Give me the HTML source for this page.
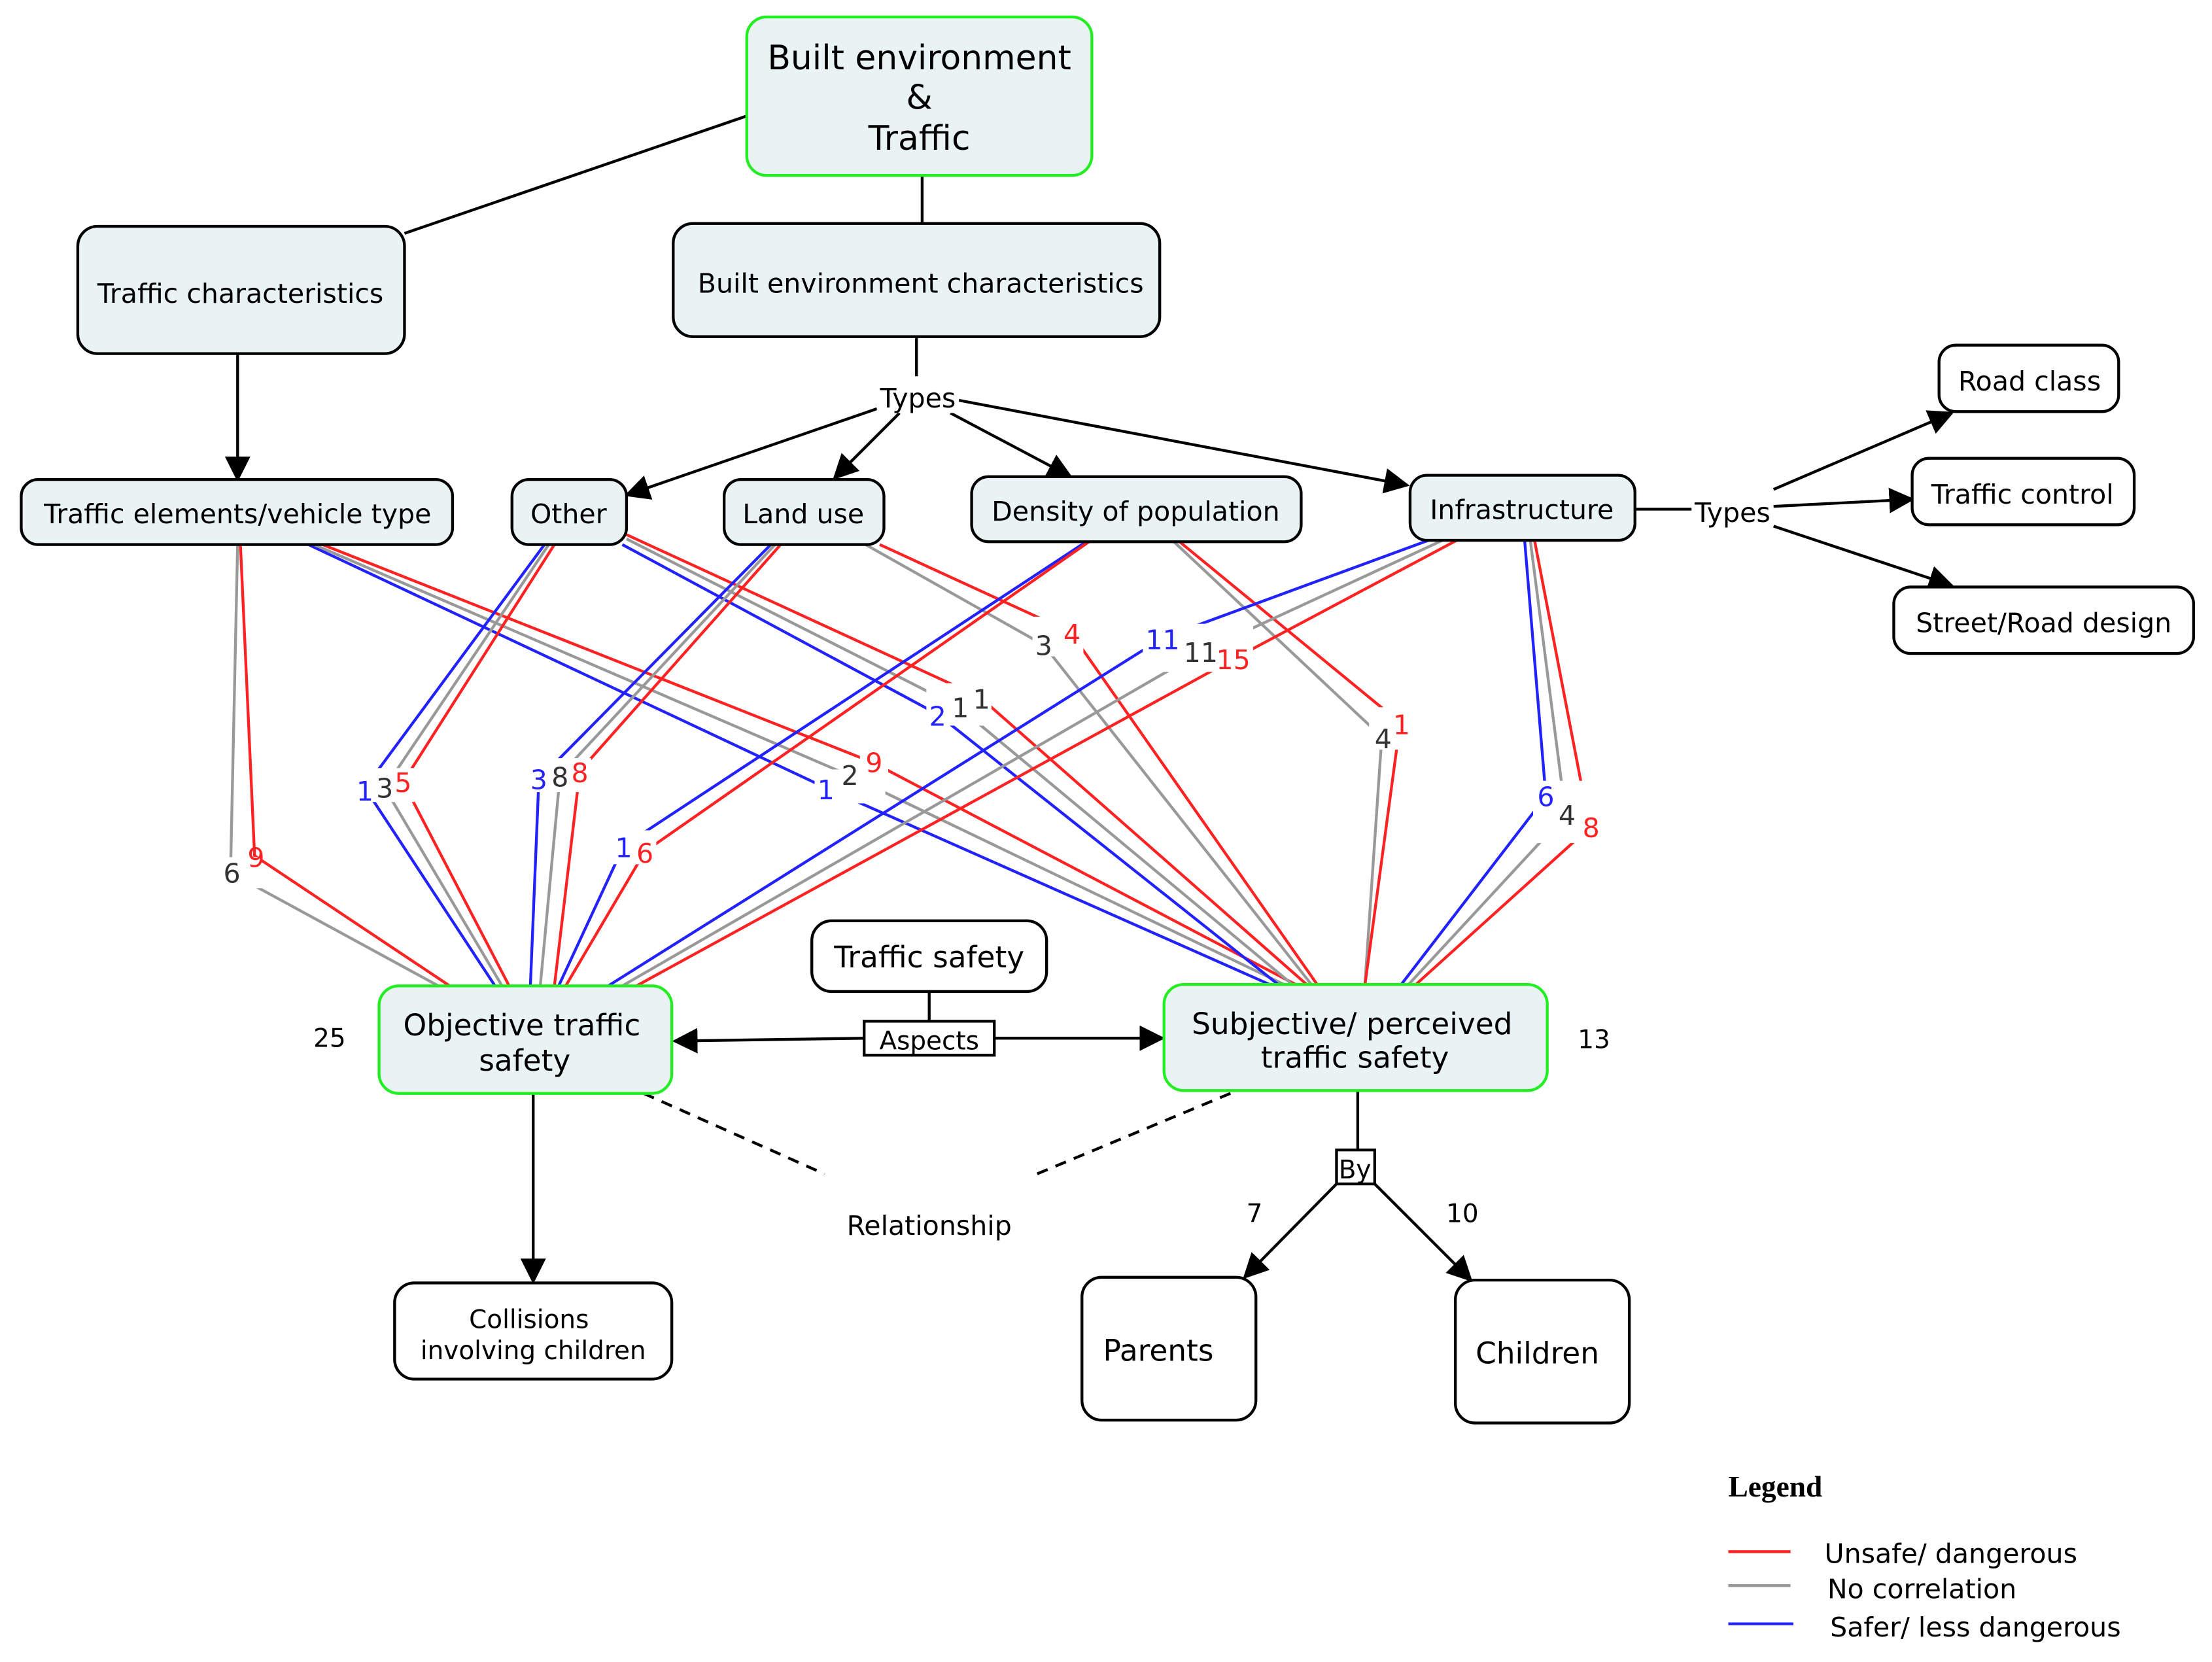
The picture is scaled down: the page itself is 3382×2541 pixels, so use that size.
<!DOCTYPE html>
<html><head><meta charset="utf-8"><style>
html,body{margin:0;padding:0;background:#fff;}
svg{display:block;}
text{font-family:"DejaVu Sans","Liberation Sans",sans-serif;}
</style></head><body>
<svg width="3382" height="2541" viewBox="0 0 1564 1175" preserveAspectRatio="none" xmlns="http://www.w3.org/2000/svg">
<defs>
<marker id="ar" viewBox="0 0 10 10" refX="9" refY="5" markerWidth="9" markerHeight="9" markerUnits="userSpaceOnUse" orient="auto"><path d="M0,0L10,5L0,10z" fill="#000"/></marker>
<marker id="arb" viewBox="0 0 10 10" refX="9" refY="5" markerWidth="18" markerHeight="18" markerUnits="userSpaceOnUse" orient="auto"><path d="M0,0L10,5L0,10z" fill="#000"/></marker>
</defs>
<rect width="1564" height="1175" fill="#fff"/>
<!-- colored lines -->
<g fill="none" stroke-width="2">
<polyline stroke="#999" points="168,385 163,617 310,697"/>
<polyline stroke="#f22" points="170,385 180,605 318,697"/>
<polyline stroke="#22f" points="218,385 584,557 900,697"/>
<polyline stroke="#999" points="222,385 600,548 910,697"/>
<polyline stroke="#f22" points="228,385 617,539 918,697"/>
<polyline stroke="#22f" points="385,385 258,557 350,697"/>
<polyline stroke="#999" points="388,385 272,557 355,697"/>
<polyline stroke="#f22" points="392,385 285,553 360,697"/>
<polyline stroke="#22f" points="440,385 663,505 905,697"/>
<polyline stroke="#999" points="443,381 678,500 915,697"/>
<polyline stroke="#f22" points="443,378 693,493 925,697"/>
<polyline stroke="#22f" points="545,385 381,551 375,697"/>
<polyline stroke="#999" points="548,385 396,548 382,697"/>
<polyline stroke="#f22" points="552,385 410,545 392,697"/>
<polyline stroke="#999" points="612,385 738,456 928,697"/>
<polyline stroke="#f22" points="622,385 757,447 932,697"/>
<polyline stroke="#22f" points="768,383 441,598 395,697"/>
<polyline stroke="#f22" points="770,383 456,602 400,697"/>
<polyline stroke="#999" points="830,383 977,521 965,697"/>
<polyline stroke="#f22" points="834,383 990,511 965,697"/>
<polyline stroke="#22f" points="1010,382 822,451 430,697"/>
<polyline stroke="#999" points="1020,382 849,461 440,697"/>
<polyline stroke="#f22" points="1030,382 872,466 450,697"/>
<polyline stroke="#22f" points="1078,382 1093,563 990,697"/>
<polyline stroke="#999" points="1082,382 1107,576 995,697"/>
<polyline stroke="#f22" points="1085,382 1124,585 1000,697"/>
</g>
<!-- number labels -->
<g font-size="19" text-anchor="middle">
<g fill="#fff"><rect x="155" y="606" width="30" height="22"/><rect x="249" y="543" width="44" height="24"/><rect x="372" y="536" width="46" height="24"/><rect x="576" y="544" width="50" height="24"/><rect x="608" y="527" width="20" height="24"/><rect x="655" y="483" width="46" height="30"/><rect x="730" y="436" width="36" height="28"/><rect x="432" y="587" width="32" height="24"/><rect x="808" y="441" width="78" height="34"/><rect x="968" y="500" width="30" height="30"/><rect x="1084" y="552" width="48" height="44"/></g>
<text x="164" y="624" fill="#333">6</text><text x="181" y="613" fill="#f22">9</text>
<text x="258" y="566" fill="#22f">1</text><text x="272" y="564" fill="#333">3</text><text x="285" y="560" fill="#f22">5</text>
<text x="381" y="558" fill="#22f">3</text><text x="396" y="556" fill="#333">8</text><text x="410" y="553" fill="#f22">8</text>
<text x="584" y="565" fill="#22f">1</text><text x="601" y="555" fill="#333">2</text><text x="618" y="546" fill="#f22">9</text>
<text x="663" y="513" fill="#22f">2</text><text x="679" y="507" fill="#333">1</text><text x="694" y="501" fill="#333">1</text>
<text x="738" y="463" fill="#333">3</text><text x="758" y="455" fill="#f22">4</text>
<text x="441" y="606" fill="#22f">1</text><text x="456" y="610" fill="#f22">6</text>
<text x="822" y="459" fill="#22f">11</text><text x="849" y="468" fill="#333">11</text><text x="872" y="473" fill="#f22">15</text>
<text x="978" y="529" fill="#333">4</text><text x="991" y="519" fill="#f22">1</text>
<text x="1093" y="570" fill="#22f">6</text><text x="1108" y="583" fill="#333">4</text><text x="1125" y="592" fill="#f22">8</text>
</g>
<!-- black connectors -->
<g stroke="#000" stroke-width="2" fill="none">
<line x1="528" y1="82" x2="286" y2="165"/>
<line x1="652" y1="124" x2="652" y2="158"/>
<line x1="648" y1="238" x2="648" y2="266"/>
<line x1="168" y1="250" x2="168" y2="339" marker-end="url(#arb)"/>
<line x1="620" y1="289" x2="443" y2="350" marker-end="url(#arb)"/>
<line x1="636" y1="292" x2="590" y2="338" marker-end="url(#arb)"/>
<line x1="672" y1="292" x2="757" y2="337" marker-end="url(#arb)"/>
<line x1="678" y1="283" x2="995" y2="343" marker-end="url(#arb)"/>
<line x1="1156" y1="360" x2="1196" y2="360"/>
<line x1="1254" y1="346" x2="1380" y2="292" marker-end="url(#arb)"/>
<line x1="1254" y1="358" x2="1352" y2="353" marker-end="url(#arb)"/>
<line x1="1254" y1="372" x2="1380" y2="414" marker-end="url(#arb)"/>
<line x1="657" y1="701" x2="657" y2="722"/>
<line x1="611" y1="734" x2="477" y2="736" marker-end="url(#arb)"/>
<line x1="703" y1="734" x2="822" y2="734" marker-end="url(#arb)"/>
<line x1="377" y1="773" x2="377" y2="906" marker-end="url(#arb)"/>
<line x1="960" y1="771" x2="960" y2="813"/>
<line x1="945" y1="837" x2="880" y2="903" marker-end="url(#arb)"/>
<line x1="972" y1="837" x2="1040" y2="905" marker-end="url(#arb)"/>
<line x1="455" y1="773" x2="583" y2="830" stroke-dasharray="8,6"/>
<line x1="870" y1="773" x2="733" y2="830" stroke-dasharray="8,6"/>
</g>
<!-- nodes -->
<g stroke-width="2">
<rect x="528" y="12" width="244" height="112" rx="14" fill="#e9f3f4" stroke="#2e2"/>
<rect x="55" y="160" width="231" height="90" rx="14" fill="#e9f3f4" stroke="#000"/>
<rect x="476" y="158" width="344" height="80" rx="14" fill="#e9f3f4" stroke="#000"/>
<rect x="15" y="339" width="305" height="46" rx="12" fill="#e9f3f4" stroke="#000"/>
<rect x="362" y="339" width="81" height="46" rx="12" fill="#e9f3f4" stroke="#000"/>
<rect x="512" y="339" width="113" height="46" rx="12" fill="#e9f3f4" stroke="#000"/>
<rect x="687" y="337" width="233" height="46" rx="12" fill="#e9f3f4" stroke="#000"/>
<rect x="997" y="336" width="159" height="46" rx="12" fill="#e9f3f4" stroke="#000"/>
<rect x="1371" y="244" width="127" height="47" rx="12" fill="#fff" stroke="#000"/>
<rect x="1352" y="324" width="157" height="47" rx="12" fill="#fff" stroke="#000"/>
<rect x="1339" y="415" width="212" height="47" rx="12" fill="#fff" stroke="#000"/>
<rect x="574" y="651" width="166" height="50" rx="14" fill="#fff" stroke="#000"/>
<rect x="268" y="697" width="207" height="76" rx="14" fill="#e9f3f4" stroke="#2e2"/>
<rect x="823" y="696" width="271" height="75" rx="14" fill="#e9f3f4" stroke="#2e2"/>
<rect x="611" y="722" width="92" height="24" fill="#fff" stroke="#000"/>
<rect x="945" y="813" width="27" height="24" fill="#fff" stroke="#000"/>
<rect x="279" y="907" width="196" height="68" rx="14" fill="#fff" stroke="#000"/>
<rect x="765" y="903" width="123" height="101" rx="14" fill="#fff" stroke="#000"/>
<rect x="1029" y="905" width="123" height="101" rx="14" fill="#fff" stroke="#000"/>
</g>
<g text-anchor="middle" fill="#000">
<text x="650" y="49" font-size="24">Built environment</text>
<text x="650" y="77" font-size="24">&amp;</text>
<text x="650" y="106" font-size="24">Traffic</text>
<text x="170" y="214" font-size="19">Traffic characteristics</text>
<text x="651" y="207" font-size="19">Built environment characteristics</text>
<rect x="620" y="270" width="58" height="22" fill="#fff"/>
<text x="649" y="288" font-size="19">Types</text>
<text x="168" y="370" font-size="19">Traffic elements/vehicle type</text>
<text x="402" y="370" font-size="19">Other</text>
<text x="568" y="370" font-size="19">Land use</text>
<text x="803" y="368" font-size="19">Density of population</text>
<text x="1076" y="367" font-size="19">Infrastructure</text>
<text x="1225" y="369" font-size="19">Types</text>
<text x="1435" y="276" font-size="19">Road class</text>
<text x="1430" y="356" font-size="19">Traffic control</text>
<text x="1445" y="447" font-size="19">Street/Road design</text>
<text x="657" y="684" font-size="21">Traffic safety</text>
<text x="369" y="732" font-size="21">Objective traffic</text>
<text x="371" y="757" font-size="21">safety</text>
<text x="956" y="731" font-size="21">Subjective/ perceived</text>
<text x="958" y="755" font-size="21">traffic safety</text>
<text x="657" y="742" font-size="18">Aspects</text>
<text x="958" y="833" font-size="18">By</text>
<text x="233" y="740" font-size="18">25</text>
<text x="1127" y="741" font-size="18">13</text>
<text x="887" y="864" font-size="18">7</text>
<text x="1034" y="864" font-size="18">10</text>
<text x="657" y="873" font-size="19">Relationship</text>
<text x="374" y="939" font-size="18">Collisions</text>
<text x="377" y="961" font-size="18">involving children</text>
<text x="819" y="962" font-size="21">Parents</text>
<text x="1087" y="964" font-size="21">Children</text>
</g>
<!-- legend -->
<text x="1222" y="1058" font-size="21" font-weight="bold" font-family="Liberation Serif, serif" style="font-family:'Liberation Serif',serif">Legend</text>
<line x1="1222" y1="1097" x2="1266" y2="1097" stroke="#f22" stroke-width="2"/>
<line x1="1222" y1="1121" x2="1266" y2="1121" stroke="#999" stroke-width="2"/>
<line x1="1222" y1="1148" x2="1268" y2="1148" stroke="#22f" stroke-width="2"/>
<text x="1290" y="1105" font-size="19">Unsafe/ dangerous</text>
<text x="1292" y="1130" font-size="19">No correlation</text>
<text x="1294" y="1157" font-size="19">Safer/ less dangerous</text>
</svg>
</body></html>
